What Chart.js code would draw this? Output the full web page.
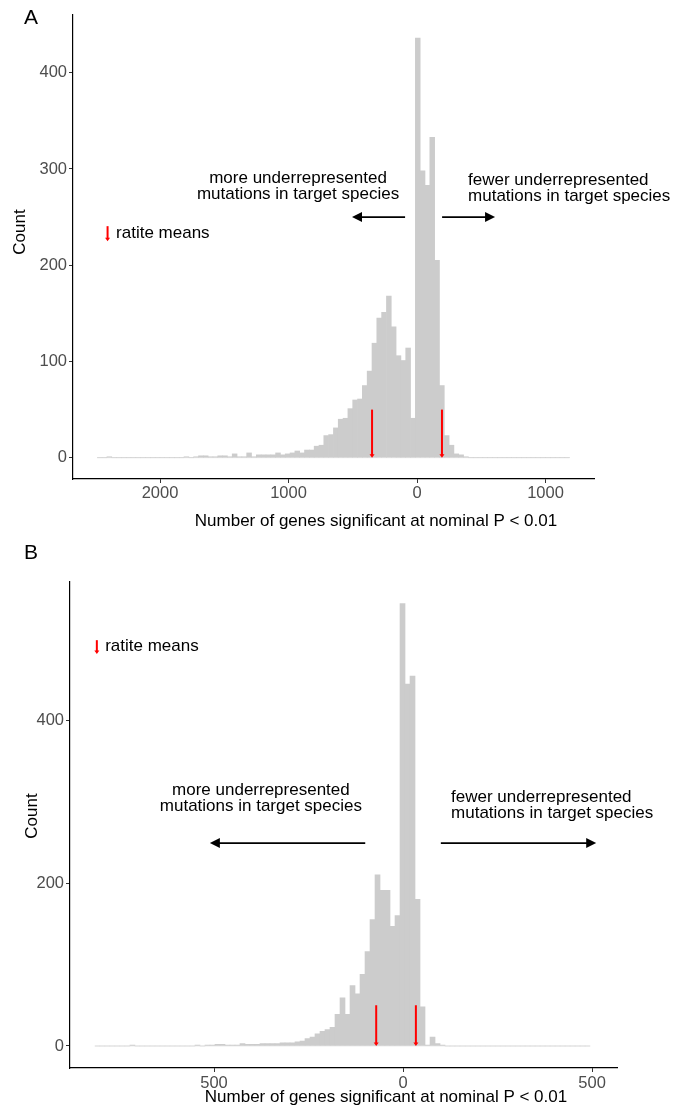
<!DOCTYPE html>
<html>
<head>
<meta charset="utf-8">
<script src="https://cdn.jsdelivr.net/npm/chart.js"></script>
<style>
  html, body { margin: 0; padding: 0; background: #fff; }
  body { width: 673px; height: 1109px; position: relative; overflow: hidden; }
  .panel { position: absolute; left: 0; width: 673px; }
  #panelA { top: 0; height: 545px; }
  #panelB { top: 545px; height: 564px; }
</style>
</head>
<body>
<div class="panel" id="panelA"><canvas id="chartA"></canvas></div>
<div class="panel" id="panelB"><canvas id="chartB"></canvas></div>

<script>
// ==========================
// DATA
// ==========================

// Panel A histogram: bins of equal width starting at binStartA
const binStartA = -2488;
const binWidthA = 37.5;
const countsA = [
  0, 0, 1, 0, 0, 0, 0, 0, 0, 0, 0, 0, 0, 0, 0, 0, 0, 0,
  1, 0, 1, 2, 2, 1, 1, 2, 2, 1, 4, 1, 1, 5, 1, 3, 3, 3, 3, 5, 3, 4, 5, 7,
  5, 8, 8, 12, 13, 23, 24, 31, 40, 41, 51, 60, 61, 75, 90,
  119, 145, 151, 168, 136, 106, 101, 114, 41,
  436, 298, 283, 333, 205, 75, 23, 13, 4, 3, 1,
  0, 0, 0, 0, 0, 0, 0, 0, 0, 0, 0, 0, 0, 0, 0, 0, 0, 0, 0, 0, 0
];
const ratiteMeansA = [-350, 194];
const xTicksA = [-2000, -1000, 0, 1000];
const yTicksA = [0, 100, 200, 300, 400];

// Panel B histogram
const binStartB = -815;
const binWidthB = 13.23;
const countsB = [
  0, 0, 0, 0, 0, 0, 0, 1, 0, 0, 0, 0, 0, 0, 0, 0, 0, 0, 0, 0,
  1, 0, 1, 1, 2, 2, 1, 1, 1, 3, 2, 2, 2, 3, 3, 3, 3, 4, 4, 4, 5,
  6, 9, 11, 15, 18, 20, 23, 39, 59, 39, 74, 64, 88, 116, 155,
  210, 191, 191, 147, 160, 543, 444, 454, 180, 48, 1, 11, 3, 1,
  0, 0, 0, 0, 0, 0, 0, 0, 0, 0, 0, 0, 0, 0, 0, 0, 0, 0, 0, 0,
  0, 0, 0, 0, 0, 0, 0, 0, 0
];
const ratiteMeansB = [-71, 34];
const xTicksB = [-500, 0, 500];
const yTicksB = [0, 200, 400];

const axisTitleX = "Number of genes significant at nominal P < 0.01";
const axisTitleY = "Count";
const textMore = ["more underrepresented", "mutations in target species"];
const textFewer = ["fewer underrepresented", "mutations in target species"];
const legendText = "ratite means";

// ==========================
// DRAWING HELPERS
// ==========================
const FONT = "'Liberation Sans', Arial, Helvetica, sans-serif";

function redArrow(ctx, x, yTop, yBot) {
  ctx.strokeStyle = "#ff0000";
  ctx.fillStyle = "#ff0000";
  ctx.lineWidth = 2;
  ctx.beginPath();
  ctx.moveTo(x, yTop);
  ctx.lineTo(x, yBot - 2);
  ctx.stroke();
  ctx.beginPath();
  ctx.moveTo(x - 2.5, yBot - 3.5);
  ctx.lineTo(x + 2.5, yBot - 3.5);
  ctx.lineTo(x, yBot);
  ctx.closePath();
  ctx.fill();
}

function blackArrow(ctx, x1, x2, y) {
  const dir = x2 > x1 ? 1 : -1;
  ctx.strokeStyle = "#000";
  ctx.fillStyle = "#000";
  ctx.lineWidth = 1.8;
  ctx.beginPath();
  ctx.moveTo(x1, y);
  ctx.lineTo(x2 - dir * 6, y);
  ctx.stroke();
  ctx.beginPath();
  ctx.moveTo(x2, y);
  ctx.lineTo(x2 - dir * 10, y - 5);
  ctx.lineTo(x2 - dir * 10, y + 5);
  ctx.closePath();
  ctx.fill();
}

const annotPlugin = {
  id: "annot",
  afterDatasetsDraw(chart, args, o) {
    const ctx = chart.ctx;
    const X = v => chart.scales.x.getPixelForValue(v);
    const Y = v => chart.scales.y.getPixelForValue(v);
    ctx.save();

    // ratite mean markers
    o.means.forEach(v => redArrow(ctx, X(v), Y(o.markerTop), Y(0)));

    // legend
    redArrow(ctx, X(o.legend.x), Y(o.legend.y1), Y(o.legend.y2));
    ctx.font = "17px " + FONT;
    ctx.fillStyle = "#000";
    ctx.textBaseline = "middle";
    ctx.textAlign = "left";
    ctx.fillText(legendText, X(o.legend.tx), Y(o.legend.ty));

    // direction arrows
    blackArrow(ctx, X(o.arrowL[0]), X(o.arrowL[1]), Y(o.arrowY));
    blackArrow(ctx, X(o.arrowR[0]), X(o.arrowR[1]), Y(o.arrowY));

    // direction labels
    ctx.fillStyle = "#000";
    ctx.textAlign = "center";
    textMore.forEach((t, i) => ctx.fillText(t, X(o.moreX), Y(o.moreY[i])));
    ctx.textAlign = "left";
    textFewer.forEach((t, i) => ctx.fillText(t, X(o.fewerX), Y(o.fewerY[i])));
    ctx.restore();
  },
  afterDraw(chart, args, o) {
    const ctx = chart.ctx;
    ctx.save();
    ctx.fillStyle = "#000";
    ctx.textBaseline = "middle";

    ctx.font = "21px " + FONT;
    ctx.textAlign = "left";
    ctx.fillText(o.letter, o.letterPos[0], o.letterPos[1]);

    ctx.font = "17px " + FONT;
    ctx.textAlign = "center";
    ctx.fillText(axisTitleX, o.xTitlePos[0], o.xTitlePos[1]);

    ctx.translate(o.yTitlePos[0], o.yTitlePos[1]);
    ctx.rotate(-Math.PI / 2);
    ctx.fillText(axisTitleY, 0, 0);
    ctx.restore();
  }
};

// ==========================
// CHART BUILDER
// ==========================
function makeChart(id, p) {
  const bars = p.counts.map((c, i) => ({ x: p.binStart + (i + 0.5) * p.binWidth, y: c }));
  const zeroLine = [
    { x: p.binStart, y: 0 },
    { x: p.binStart + p.counts.length * p.binWidth, y: 0 }
  ];
  const tickFont = { family: FONT, size: 16.5 };
  const axisGrid = {
    display: true, drawOnChartArea: false, drawTicks: true,
    tickLength: 4, tickColor: "#333", tickWidth: 1, offset: false
  };

  return new Chart(document.getElementById(id), {
    data: {
      datasets: [
        {
          type: "line", data: zeroLine, borderColor: "#ebebeb", borderWidth: 1,
          pointRadius: 0, order: 2
        },
        {
          type: "bar", data: bars, backgroundColor: "#cccccc", borderWidth: 0,
          barPercentage: 1, categoryPercentage: 1, grouped: false, order: 1
        }
      ]
    },
    options: {
      animation: false,
      responsive: true,
      maintainAspectRatio: false,
      layout: { padding: p.padding },
      plugins: {
        legend: { display: false },
        tooltip: { enabled: false },
        annot: p.annot
      },
      scales: {
        x: {
          type: "linear", min: p.xMin, max: p.xMax, offset: false,
          afterBuildTicks: s => { s.ticks = p.xTicks.map(v => ({ value: v })); },
          afterFit: s => { s.height = 40; },
          ticks: {
            callback: v => Math.abs(v), color: "#4d4d4d", font: tickFont,
            padding: p.xTickPad, maxRotation: 0, autoSkip: false
          },
          grid: axisGrid,
          border: { display: true, color: "#000", width: 1.2 }
        },
        y: {
          type: "linear", min: p.yMin, max: p.yMax,
          afterBuildTicks: s => { s.ticks = p.yTicks.map(v => ({ value: v })); },
          afterFit: s => { s.width = p.yAxisWidth; },
          ticks: { color: "#4d4d4d", font: tickFont, padding: 2 },
          grid: axisGrid,
          border: { display: true, color: "#000", width: 1.2 }
        }
      }
    },
    plugins: [annotPlugin]
  });
}

// ==========================
// PANEL A
// ==========================
makeChart("chartA", {
  counts: countsA, binStart: binStartA, binWidth: binWidthA,
  xTicks: xTicksA, yTicks: yTicksA,
  xMin: -2677, xMax: 1377, yMin: -22.1, yMax: 460,
  padding: { left: 0, top: 15, right: 79, bottom: 26 },
  yAxisWidth: 73, xTickPad: 1,
  annot: {
    means: ratiteMeansA, markerTop: 50,
    legend: { x: -2408, y1: 240.6, y2: 225, tx: -2342, ty: 233 },
    arrowL: [-93, -506], arrowR: [195, 607], arrowY: 250,
    moreX: -926, moreY: [290.5, 274],
    fewerX: 397, fewerY: [288.4, 271.7],
    letter: "A", letterPos: [24, 18],
    xTitlePos: [376, 521], yTitlePos: [20, 232]
  }
});

// ==========================
// PANEL B
// ==========================
makeChart("chartB", {
  counts: countsB, binStart: binStartB, binWidth: binWidthB,
  xTicks: xTicksB, yTicks: yTicksB,
  xMin: -881, xMax: 566, yMin: -27, yMax: 570,
  padding: { left: 0, top: 36.5, right: 56, bottom: 1 },
  yAxisWidth: 70, xTickPad: 2,
  annot: {
    means: ratiteMeansB, markerTop: 50,
    legend: { x: -810, y1: 498, y2: 481, tx: -788, ty: 490 },
    arrowL: [-100, -511], arrowR: [100, 511], arrowY: 249,
    moreX: -376, moreY: [314, 294.5],
    fewerX: 127, fewerY: [305.5, 286],
    letter: "B", letterPos: [24, 8],
    xTitlePos: [386, 552], yTitlePos: [32, 271]
  }
});
</script>
</body>
</html>
